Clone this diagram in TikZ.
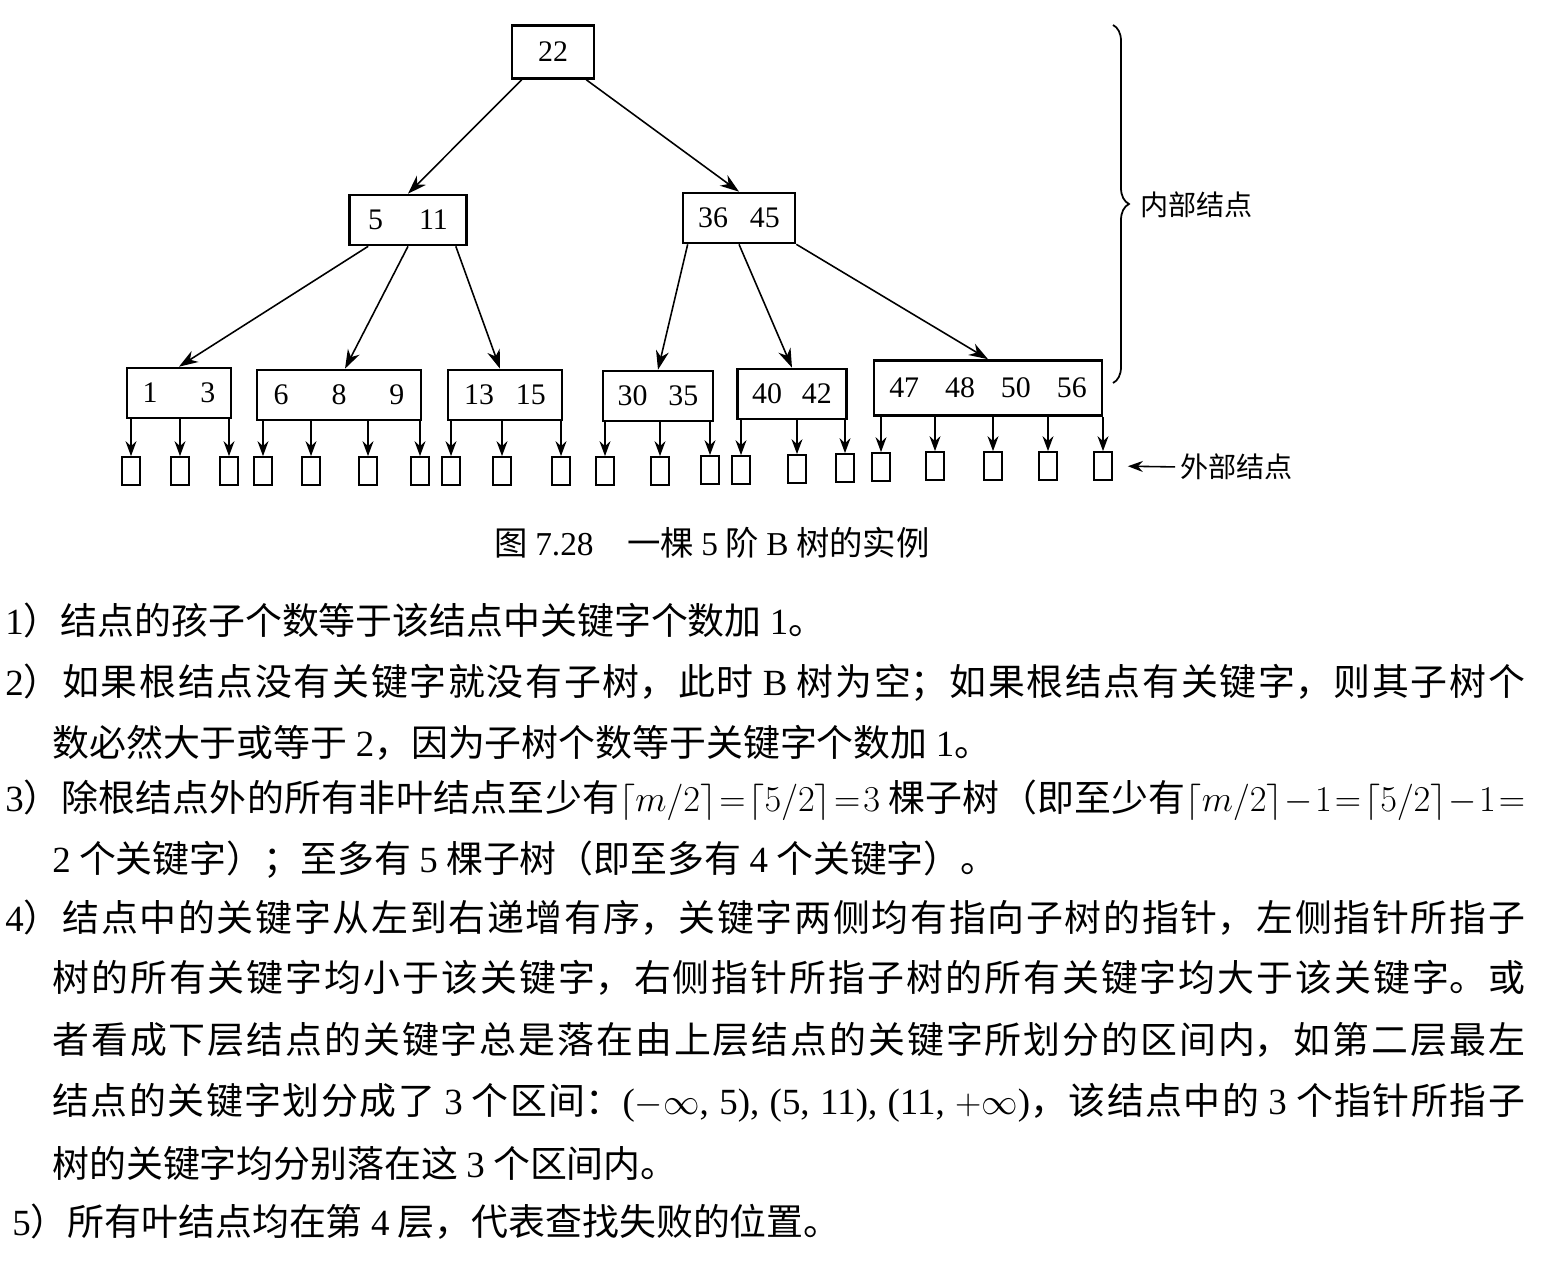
\documentclass[tikz,border=0pt]{standalone}
\usepackage{fontspec}
\setmainfont{Liberation Serif}
\newfontfamily\cjk{Noto Sans CJK SC}
\usetikzlibrary{arrows.meta,decorations.pathreplacing}
\XeTeXlinebreaklocale "zh"
\XeTeXlinebreakskip=0pt plus 4pt
\newcommand\en[1]{{\rmfamily #1}}
\newcommand\fullline[2]{\parbox{#1}{\parfillskip=0pt\relax #2}}
\newcommand\tight[1]{{\thickmuskip=1.5mu\medmuskip=1mu$#1$}}
\tikzset{
    keybox/.style={draw, line width=1.5pt, inner sep=0pt,
        minimum height=1cm, font=\fontsize{17}{17}\selectfont},
    extbox/.style={draw, line width=1pt, inner sep=0pt,
        minimum width=0.36cm, minimum height=0.56cm},
    ptr/.style={-{Stealth[length=0.38cm,width=0.26cm,inset=0.12cm]}, line width=0.9pt},
    eptr/.style={-{Stealth[length=0.3cm,width=0.22cm,inset=0.1cm]}, line width=0.9pt},
    textline/.style={anchor=west, inner sep=0pt, font=\cjk\fontsize{21}{21}\selectfont},
    label/.style={anchor=west, inner sep=0pt, font=\cjk\fontsize{16}{16}\selectfont},
}
\begin{document}
\begin{tikzpicture}[x=0.02cm, y=-0.02cm]
    \fill [white] (0,0) rectangle (1549,1277);
    \useasboundingbox (0,0) rectangle (1549,1277);

    \node (root) at (553,52) [keybox, minimum width=1.64cm, minimum height=1.06cm] {22};
    \node (n511) at (408,220) [keybox, minimum width=2.34cm] {5\hspace{0.72cm}11};
    \node (n3645) at (739,218) [keybox, minimum width=2.24cm] {36\hspace{0.44cm}45};

    \node (n13) at (179,393) [keybox, minimum width=2.08cm] {1\hspace{0.86cm}3};
    \node (n689) at (339,395) [keybox, minimum width=3.28cm] {6\hspace{0.86cm}8\hspace{0.86cm}9};
    \node (n1315) at (505,395) [keybox, minimum width=2.28cm] {13\hspace{0.44cm}15};
    \node (n3035) at (658,396) [keybox, minimum width=2.2cm] {30\hspace{0.42cm}35};
    \node (n4042) at (792,394) [keybox, minimum width=2.18cm] {40\hspace{0.4cm}42};
    \node (n4756) at (988,388) [keybox, minimum width=4.56cm, minimum height=1.1cm]
        {47\hspace{0.52cm}48\hspace{0.52cm}50\hspace{0.52cm}56};

    \draw [ptr] ([xshift=0.22cm]root.south west) -- (n511.north);
    \draw [ptr] ([xshift=-0.18cm]root.south east) -- (n3645.north);

    \draw [ptr] ([xshift=0.4cm]n511.south west) -- (n13.north);
    \draw [ptr] (n511.south) -- ([xshift=0.12cm]n689.north);
    \draw [ptr] ([xshift=-0.24cm]n511.south east) -- ([xshift=-0.1cm]n1315.north);
    \draw [ptr] ([xshift=0.12cm]n3645.south west) -- (n3035.north);
    \draw [ptr] (n3645.south) -- (n4042.north);
    \draw [ptr] (n3645.south east) -- (n4756.north);

    \foreach \x/\y/\p [count=\i] in {131/471/n13, 180/471/n13, 229/471/n13,
            263/471/n689, 311/471/n689, 368/471/n689, 420/471/n689,
            451/471/n1315, 502/471/n1315, 561/471/n1315,
            605/471/n3035, 660/471/n3035, 710/470/n3035,
            741/470/n4042, 797/469/n4042, 845/468/n4042,
            881/467/n4756, 935/466/n4756, 993/466/n4756, 1048/466/n4756, 1103/466/n4756}
    {
        \node (e\i) at (\x,\y) [extbox] {};
        \draw [eptr] (e\i.north |- \p.south) -- (e\i.north);
    }

    \coordinate (bracetop) at (1113,25);
    \coordinate (bracebot) at (1113,383);
    \draw [decorate, decoration={brace, amplitude=0.32cm}, line width=1pt]
        (bracetop) -- (bracebot)
        ;
    \node (inner) at (1140,205) [label] {内部结点};
    \node (outer) at (1180,467) [label] {外部结点};
    \draw [eptr, shorten <=0.1cm, shorten >=0.3cm] (outer.west) -- (e21.east);

    \node (caption) at (712,543) [inner sep=0pt, font=\cjk\fontsize{19}{19}\selectfont]
        {图 \en{7.28}\hspace{1em}一棵 \en{5} 阶 \en{B} 树的实例};

    \node (l1) at (5,620) [textline]
        {\en{1}）结点的孩子个数等于该结点中关键字个数加 \en{1}。};
    \node (l2) at (5,683) [textline]
        {\fullline{30.4cm}{\en{2}）如果根结点没有关键字就没有子树，此时 \en{B} 树为空；如果根结点有关键字，则其子树个}};
    \node (l2b) at (52,743) [textline]
        {数必然大于或等于 \en{2}，因为子树个数等于关键字个数加 \en{1}。};
    \node (l3) at (5,800) [textline]
        {\fullline{30.4cm}{\en{3}）除根结点外的所有非叶结点至少有\tight{\lceil m/2\rceil=\lceil 5/2\rceil=3} 棵子树（即至少有\tight{\lceil m/2\rceil-1=\lceil 5/2\rceil-1=}}};
    \node (l3b) at (52,860) [textline]
        {\en{2} 个关键字）；至多有 \en{5} 棵子树（即至多有 \en{4} 个关键字）。};
    \node (l4) at (5,918) [textline]
        {\fullline{30.4cm}{\en{4}）结点中的关键字从左到右递增有序，关键字两侧均有指向子树的指针，左侧指针所指子}};
    \node (l4b) at (52,978) [textline]
        {\fullline{29.46cm}{树的所有关键字均小于该关键字，右侧指针所指子树的所有关键字均大于该关键字。或}};
    \node (l4c) at (52,1040) [textline]
        {\fullline{29.46cm}{者看成下层结点的关键字总是落在由上层结点的关键字所划分的区间内，如第二层最左}};
    \node (l4d) at (52,1103) [textline]
        {\fullline{29.46cm}{结点的关键字划分成了 \en{3} 个区间：\en{($-\infty$, 5), (5, 11), (11, $+\infty$)}，该结点中的 \en{3} 个指针所指子}};
    \node (l4e) at (52,1163) [textline]
        {树的关键字均分别落在这 \en{3} 个区间内。};
    \node (l5) at (12,1222) [textline]
        {\en{5}）所有叶结点均在第 \en{4} 层，代表查找失败的位置。};
\end{tikzpicture}
\end{document}
